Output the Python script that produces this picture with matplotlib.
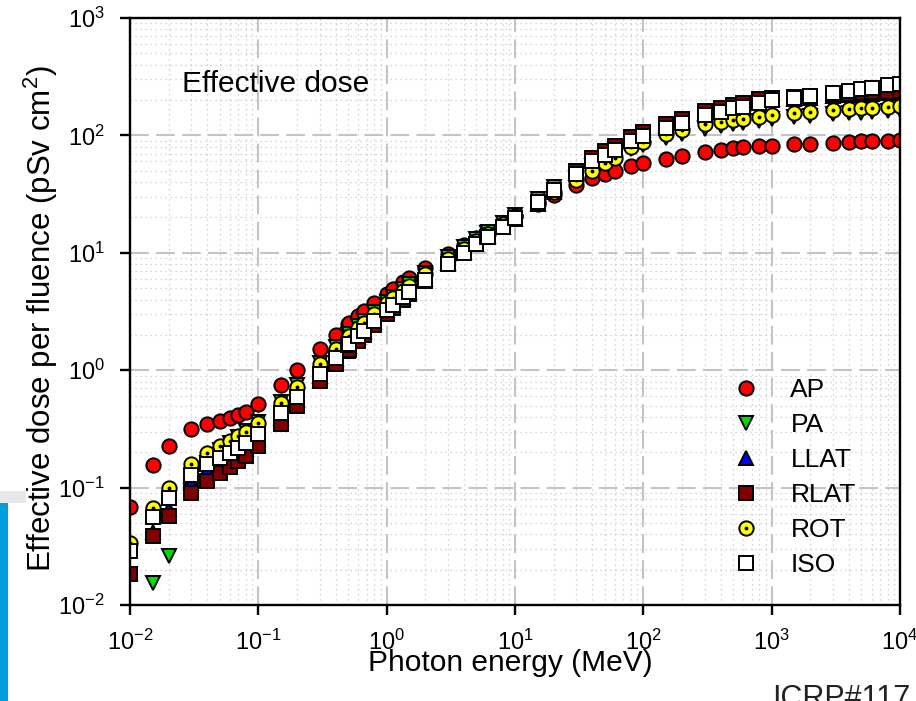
import matplotlib
matplotlib.use("Agg")
import matplotlib.pyplot as plt
import matplotlib.ticker as mticker
from matplotlib.lines import Line2D
from matplotlib.legend_handler import HandlerTuple
from matplotlib.patches import Rectangle

plt.rcParams["font.family"] = ["Liberation Sans", "DejaVu Sans"]
plt.rcParams["mathtext.default"] = "regular"
plt.rcParams["axes.unicode_minus"] = False

# photon energies (MeV)
energy = [0.01, 0.015, 0.02, 0.03, 0.04, 0.05, 0.06, 0.07, 0.08, 0.1,
          0.15, 0.2, 0.3, 0.4, 0.5, 0.511, 0.6, 0.662, 0.8, 1.0,
          1.117, 1.33, 1.5, 2.0, 3.0, 4.0, 5.0, 6.0, 6.129, 8.0, 10.0,
          15, 20, 30, 40, 50, 60, 80, 100,
          150, 200, 300, 400, 500, 600, 800, 1000,
          1500, 2000, 3000, 4000, 5000, 6000, 8000, 10000]

# effective dose per fluence (pSv cm2)
ap = [0.0685, 0.156, 0.225, 0.313, 0.351, 0.370, 0.390, 0.413, 0.444, 0.519,
      0.748, 1.00, 1.51, 2.00, 2.47, 2.52, 2.91, 3.17, 3.73, 4.49,
      4.90, 5.59, 6.12, 7.48, 9.75, 11.7, 13.4, 15.0, 15.1, 17.8, 20.5,
      26.1, 30.8, 37.9, 43.1, 47.1, 50.1, 54.5, 57.8,
      63.3, 67.3, 72.4, 75.5, 77.5, 78.9, 80.5, 81.7,
      83.8, 85.2, 86.9, 88.1, 88.9, 89.5, 90.2, 90.7]
pa = [0.0184, 0.0155, 0.0260, 0.0940, 0.161, 0.208, 0.242, 0.271, 0.301, 0.361,
      0.541, 0.741, 1.16, 1.57, 1.98, 2.03, 2.38, 2.62, 3.13, 3.83,
      4.22, 4.89, 5.39, 6.75, 9.12, 11.2, 13.1, 14.8, 15.0, 18.0, 20.8,
      29.0, 36.0, 43.1, 55.0, 62.0, 68.0, 77.0, 83.0,
      95.0, 103, 114, 120, 125, 128, 133, 137,
      143, 146, 151, 154, 156, 158, 161, 163]
llat = [0.0189, 0.0416, 0.0655, 0.110, 0.140, 0.160, 0.177, 0.194, 0.214, 0.259,
        0.395, 0.552, 0.888, 1.24, 1.58, 1.62, 1.93, 2.14, 2.59, 3.23,
        3.58, 4.20, 4.68, 5.96, 8.21, 10.2, 12.0, 13.7, 13.9, 16.7, 19.3,
        26.0, 33.0, 48.0, 61.0, 70.0, 78.0, 92.0, 102,
        120, 133, 156, 167, 177, 184, 196, 203,
        205, 209, 215, 219, 222, 225, 228, 230]
rlat = [0.0182, 0.0390, 0.0573, 0.0891, 0.114, 0.133, 0.150, 0.167, 0.185, 0.225,
        0.348, 0.492, 0.802, 1.13, 1.45, 1.49, 1.78, 1.98, 2.41, 3.03,
        3.37, 3.98, 4.45, 5.72, 7.98, 10.0, 11.9, 13.6, 13.8, 16.6, 19.3,
        26.5, 34.0, 50.0, 64.0, 73.0, 81.0, 96.0, 107,
        124, 137, 161, 172, 183, 190, 203, 210,
        212, 216, 222, 226, 229, 232, 236, 238]
rot = [0.0337, 0.0664, 0.0986, 0.158, 0.199, 0.226, 0.248, 0.273, 0.297, 0.355,
       0.528, 0.721, 1.12, 1.52, 1.92, 1.96, 2.30, 2.54, 3.04, 3.72,
       4.10, 4.75, 5.24, 6.55, 8.84, 10.8, 12.7, 14.4, 14.6, 17.6, 20.4,
       27.0, 33.0, 42.0, 50.0, 58.0, 64.0, 80.0, 88.0,
       103, 112, 124, 130, 135, 138, 144, 149,
       156, 159, 165, 168, 170, 171, 176, 178]
iso = [0.0288, 0.0560, 0.0812, 0.127, 0.158, 0.180, 0.199, 0.218, 0.239, 0.287,
       0.429, 0.589, 0.932, 1.28, 1.63, 1.67, 1.97, 2.17, 2.62, 3.25,
       3.60, 4.20, 4.66, 5.90, 8.08, 10.0, 11.8, 13.5, 13.7, 16.6, 19.8,
       27.0, 34.0, 47.0, 60.0, 68.0, 75.0, 89.0, 98.0,
       115, 127, 149, 159, 170, 176, 190, 200,
       210, 217, 229, 240, 247, 252, 267, 274]

labels = ["AP", "PA", "LLAT", "RLAT", "ROT", "ISO"]

fig = plt.figure(figsize=(9.16, 7.01), dpi=100)

# slide background bits on the left edge
fig.patches.append(Rectangle((0, 0), 8 / 916, 198 / 701, transform=fig.transFigure,
                             facecolor="#009fdb", edgecolor="none", zorder=0))
fig.patches.append(Rectangle((0, 198 / 701), 26 / 916, 12 / 701, transform=fig.transFigure,
                             facecolor="#e8e8e8", edgecolor="none", zorder=0))

ax = fig.add_axes([130 / 916, 96 / 701, 770 / 916, 587 / 701])
ax.set_xscale("log")
ax.set_yscale("log")
ax.set_xlim(1e-2, 1e4)
ax.set_ylim(1e-2, 1e3)

ms = 10.3
mew = 1.4
kw = dict(linestyle="none", markersize=ms, markeredgecolor="black", markeredgewidth=mew)
ax.plot(energy, ap, marker="o", markerfacecolor="#ff0000", **kw)
ax.plot(energy, pa, marker="v", markerfacecolor="#00dd00", **kw)
ax.plot(energy, llat, marker="^", markerfacecolor="#0000ff", **kw)
ax.plot(energy, rlat, marker="s", markerfacecolor="#800000", **kw)
ax.plot(energy, rot, marker="o", markerfacecolor="#ffff00", **kw)
ax.plot(energy, rot, linestyle="none", marker="o", markersize=1.8,
        markerfacecolor="black", markeredgecolor="black")
ax.plot(energy, iso, marker="s", markerfacecolor="white", **kw)

# axes styling
for side in ["left", "bottom", "top", "right"]:
    ax.spines[side].set_linewidth(1.7)
ax.xaxis.set_major_locator(mticker.LogLocator(base=10, numticks=10))
ax.yaxis.set_major_locator(mticker.LogLocator(base=10, numticks=10))
ax.xaxis.set_minor_locator(mticker.LogLocator(base=10, subs=range(2, 10), numticks=20))
ax.yaxis.set_minor_locator(mticker.LogLocator(base=10, subs=range(2, 10), numticks=20))
ax.tick_params(which="major", direction="out", length=7, width=1.7,
               labelsize=17, pad=11, top=False, right=False)
ax.tick_params(which="minor", length=0)
ax.grid(which="major", color="#c4c4c4", linestyle=(0, (9, 3.5)), linewidth=1.5)
ax.grid(which="minor", color="#c8c8c8", linestyle=(0, (1, 3)), linewidth=0.9)
ax.set_axisbelow(True)

ax.set_xlabel("Photon energy (MeV)", fontsize=21.5)
ax.xaxis.set_label_coords(0.4935, -0.075)
ax.set_ylabel("Effective dose per fluence (pSv cm$^2$)", fontsize=22.5)
ax.yaxis.set_label_coords(-0.091, 0.488)

ax.text(0.0675, 0.8876, "Effective dose", transform=ax.transAxes,
        fontsize=21.5, ha="left", va="center")

# legend
handles = [
    Line2D([], [], marker="o", markerfacecolor="#ff0000", **kw),
    Line2D([], [], marker="v", markerfacecolor="#00dd00", **kw),
    Line2D([], [], marker="^", markerfacecolor="#0000ff", **kw),
    Line2D([], [], marker="s", markerfacecolor="#800000", **kw),
    (Line2D([], [], marker="o", markerfacecolor="#ffff00", **kw),
     Line2D([], [], linestyle="none", marker="o", markersize=1.8,
            markerfacecolor="black", markeredgecolor="black")),
    Line2D([], [], marker="s", markerfacecolor="white", **kw),
]
ax.legend(handles, labels, loc="upper left", bbox_to_anchor=(0.772, 0.405),
          frameon=False, fontsize=19, handlelength=0.8, handletextpad=1.3,
          labelspacing=0.42, borderaxespad=0,
          handler_map={tuple: HandlerTuple(ndivide=1)})

fig.text(772 / 916, -6 / 701, "ICRP#117", fontsize=22, color="#222222",
         ha="left", va="baseline")

fig.savefig("out.png", dpi=100)
